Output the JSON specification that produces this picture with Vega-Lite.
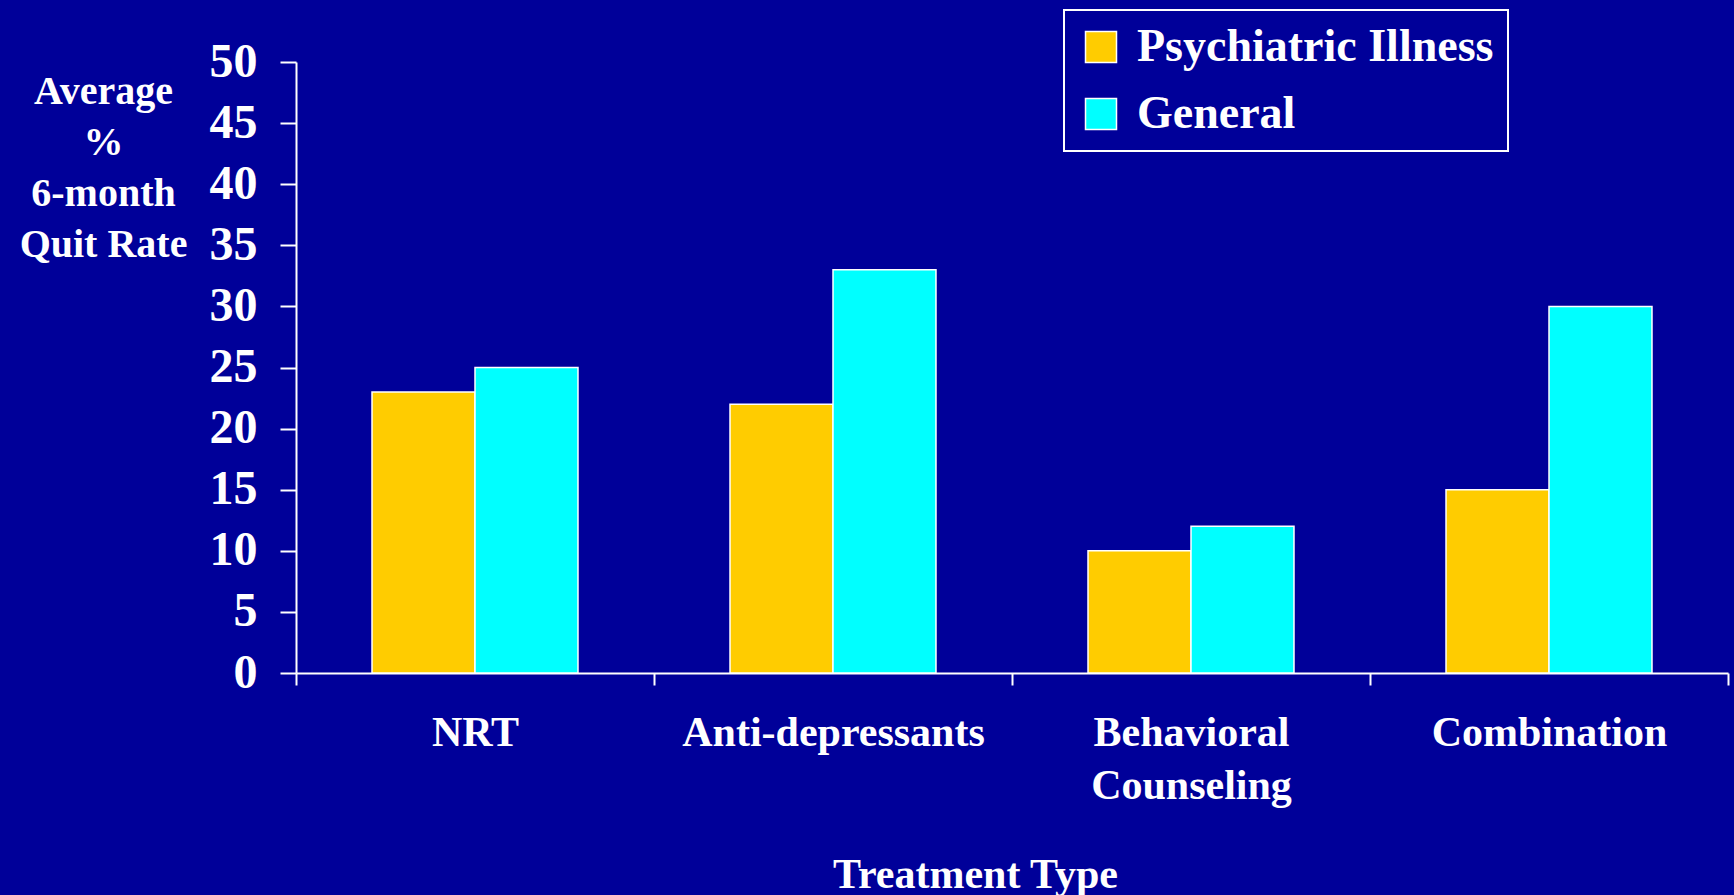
{
  "$schema": "https://vega.github.io/schema/vega-lite/v6.json",
  "width": 1432,
  "height": 611,
  "autosize": {"type": "none"},
  "padding": {"left": 296, "top": 62, "right": 6, "bottom": 222},
  "background": "#000099",
  "config": {
    "view": {"stroke": null},
    "font": "Liberation Serif",
    "legend": {"strokeWidth": 2}
  },
  "data": {
    "values": [
      {"treatment": "NRT", "group": "Psychiatric Illness", "value": 23},
      {"treatment": "NRT", "group": "General", "value": 25},
      {"treatment": "Anti-depressants", "group": "Psychiatric Illness", "value": 22},
      {"treatment": "Anti-depressants", "group": "General", "value": 33},
      {"treatment": "Behavioral Counseling", "group": "Psychiatric Illness", "value": 10},
      {"treatment": "Behavioral Counseling", "group": "General", "value": 12},
      {"treatment": "Combination", "group": "Psychiatric Illness", "value": 15},
      {"treatment": "Combination", "group": "General", "value": 30}
    ]
  },
  "mark": {"type": "bar", "stroke": "white", "strokeWidth": 1.5},
  "encoding": {
    "x": {
      "field": "treatment",
      "type": "nominal",
      "sort": ["NRT", "Anti-depressants", "Behavioral Counseling", "Combination"],
      "scale": {"paddingInner": 0, "paddingOuter": 0},
      "axis": {
        "labelAngle": 0,
        "labelFont": "Liberation Serif",
        "labelFontSize": 42,
        "labelFontWeight": "bold",
        "labelColor": "white",
        "labelPadding": 27,
        "labelLimit": 0,
        "labelOverlap": false,
        "labelLineHeight": 53,
        "labelExpr": "datum.label == 'Behavioral Counseling' ? ['Behavioral', 'Counseling'] : datum.label",
        "domainColor": "white",
        "domainWidth": 2,
        "tickColor": "white",
        "tickWidth": 2,
        "tickSize": 12,
        "tickBand": "extent",
        "grid": false,
        "title": "Treatment Type",
        "titleFont": "Liberation Serif",
        "titleFontSize": 42,
        "titleFontWeight": "bold",
        "titleColor": "white",
        "titleAlign": "center",
        "titleBaseline": "alphabetic",
        "titleX": 679,
        "titleY": 214
      }
    },
    "xOffset": {
      "field": "group",
      "type": "nominal",
      "sort": ["Psychiatric Illness", "General"],
      "scale": {"paddingInner": 0, "paddingOuter": 0.738}
    },
    "y": {
      "field": "value",
      "type": "quantitative",
      "scale": {"domain": [0, 50], "nice": false},
      "axis": {
        "values": [0, 5, 10, 15, 20, 25, 30, 35, 40, 45, 50],
        "labelFont": "Liberation Serif",
        "labelFontSize": 48,
        "labelFontWeight": "bold",
        "labelColor": "white",
        "labelPadding": 23,
        "domainColor": "white",
        "domainWidth": 2,
        "tickColor": "white",
        "tickWidth": 2,
        "tickSize": 16,
        "grid": false,
        "title": ["Average", "%", "6-month", "Quit Rate"],
        "titleFont": "Liberation Serif",
        "titleFontSize": 40,
        "titleFontWeight": "bold",
        "titleColor": "white",
        "titleAngle": 0,
        "titleAlign": "center",
        "titleBaseline": "alphabetic",
        "titleLineHeight": 51,
        "titleX": -193,
        "titleY": 41
      }
    },
    "color": {
      "field": "group",
      "type": "nominal",
      "scale": {"domain": ["Psychiatric Illness", "General"], "range": ["#FFCC00", "#00FFFF"]},
      "legend": {
        "title": null,
        "orient": "none",
        "legendX": 768,
        "legendY": -52,
        "padding": 14,
        "strokeColor": "white",
        "fillColor": "#000099",
        "symbolType": "square",
        "symbolSize": 961,
        "symbolStrokeColor": "white",
        "symbolStrokeWidth": 1.5,
        "symbolOpacity": 1,
        "labelFont": "Liberation Serif",
        "labelFontSize": 46,
        "labelFontWeight": "bold",
        "labelColor": "white",
        "labelLimit": 600,
        "labelOffset": 13,
        "rowPadding": 21
      }
    }
  }
}
